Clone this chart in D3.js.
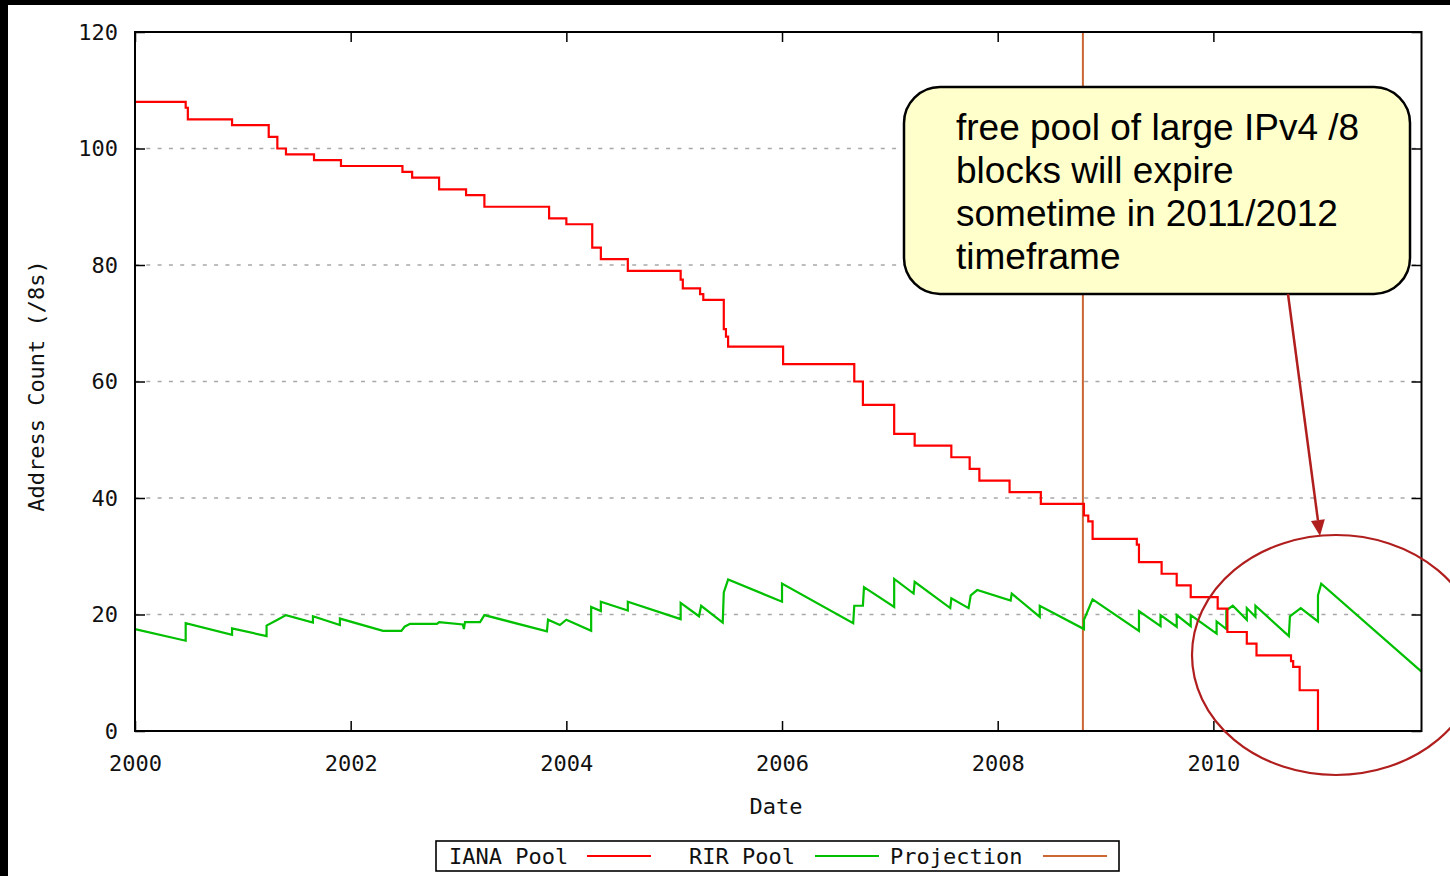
<!DOCTYPE html>
<html>
<head>
<meta charset="utf-8">
<script src="https://cdn.jsdelivr.net/npm/d3@7"></script>
<style>
  body { margin: 0; background: #fff; }
  svg { display: block; }
</style>
</head>
<body>
<svg width="1450" height="876"></svg>
<script>
// tick values
const yearTicks = [2000, 2002, 2004, 2006, 2008, 2010];
const countTicks = [0, 20, 40, 60, 80, 100, 120];
const gridTicks = [20, 40, 60, 80, 100];

// IANA pool (/8s) — step changes [decimal year, count]
const ianaPool = [
  [2000.00, 108], [2000.47, 107], [2000.49, 105], [2000.90, 104], [2001.24, 102],
  [2001.32, 100], [2001.40, 99], [2001.66, 98], [2001.91, 97], [2002.48, 96],
  [2002.57, 95], [2002.82, 93], [2003.07, 92], [2003.24, 90], [2003.84, 88],
  [2004.00, 87], [2004.24, 83], [2004.32, 81], [2004.57, 79], [2005.06, 77.5],
  [2005.08, 76], [2005.24, 75], [2005.27, 74], [2005.46, 69], [2005.48, 67.7],
  [2005.50, 66], [2006.01, 63], [2006.67, 60], [2006.75, 56], [2007.04, 51],
  [2007.23, 49], [2007.57, 47], [2007.74, 45], [2007.83, 43], [2008.11, 41],
  [2008.40, 39], [2008.80, 37], [2008.84, 36], [2008.88, 33], [2009.29, 32],
  [2009.31, 29], [2009.52, 27], [2009.66, 25], [2009.79, 23], [2010.04, 21],
  [2010.13, 17], [2010.31, 15], [2010.40, 13], [2010.72, 12], [2010.74, 11],
  [2010.80, 7], [2010.97, 0]
];

// RIR pool (/8s) — vertices [decimal year, count]
const rirPool = [
  [2000.00, 17.5], [2000.47, 15.5], [2000.47, 18.5], [2000.90, 16.5], [2000.90, 17.6],
  [2001.22, 16.3], [2001.22, 18.1], [2001.33, 19.2], [2001.40, 19.9], [2001.65, 18.6],
  [2001.65, 19.7], [2001.90, 18.2], [2001.90, 19.3], [2002.30, 17.2], [2002.47, 17.2],
  [2002.50, 17.9], [2002.55, 18.4], [2002.80, 18.4], [2002.82, 18.7], [2003.04, 18.3],
  [2003.05, 17.5], [2003.06, 18.7], [2003.20, 18.7], [2003.24, 19.9], [2003.82, 17.1],
  [2003.83, 19.1], [2003.94, 18.2], [2004.00, 19.1], [2004.23, 17.2], [2004.23, 21.3],
  [2004.32, 20.6], [2004.32, 22.2], [2004.57, 20.7], [2004.57, 22.2], [2005.06, 19.2],
  [2005.06, 22.0], [2005.23, 19.7], [2005.25, 21.5], [2005.45, 18.6], [2005.46, 23.8],
  [2005.50, 26.0], [2006.00, 22.2], [2006.00, 25.3], [2006.66, 18.5], [2006.67, 21.5],
  [2006.75, 21.5], [2006.76, 24.7], [2007.04, 21.3], [2007.04, 26.1], [2007.22, 23.6],
  [2007.23, 25.6], [2007.56, 21.1], [2007.57, 22.8], [2007.73, 21.1], [2007.75, 23.3],
  [2007.81, 24.2], [2008.12, 22.4], [2008.13, 23.6], [2008.39, 19.6], [2008.39, 21.5],
  [2008.80, 17.5], [2008.80, 19.1], [2008.88, 22.6], [2009.31, 17.2], [2009.31, 20.6],
  [2009.51, 18.0], [2009.51, 19.9], [2009.66, 17.9], [2009.66, 19.9], [2009.79, 18.0],
  [2009.79, 19.9], [2010.03, 16.7], [2010.03, 18.8], [2010.12, 17.5], [2010.12, 20.7],
  [2010.18, 21.5], [2010.31, 19.1], [2010.31, 21.1], [2010.39, 19.6], [2010.39, 21.5],
  [2010.70, 16.3], [2010.71, 19.7], [2010.81, 21.1], [2010.97, 18.8], [2010.97, 23.3],
  [2011.00, 25.3], [2011.93, 10.2]
];

const projectionYear = 2008.79;

const legendLabels = ["IANA Pool", "RIR Pool", "Projection"];
const noteLines = [
  "free pool of large IPv4 /8",
  "blocks will expire",
  "sometime in 2011/2012",
  "timeframe"
];

const colors = { iana: "#ff0000", rir: "#00c000", proj: "#cc6633", note: "#b01e1e" };
const mono = "'DejaVu Sans Mono', monospace";

const svg = d3.select("svg");
const margin = { left: 135, top: 32, right: 1421.5, bottom: 731 };

svg.append("rect").attr("width", 1450).attr("height", 876).attr("fill", "#fff");
// black slide edges
svg.append("rect").attr("x", 0).attr("y", 0).attr("width", 1450).attr("height", 5).attr("fill", "#000");
svg.append("rect").attr("x", 0).attr("y", 0).attr("width", 8).attr("height", 876).attr("fill", "#000");

const x = d3.scaleLinear().domain([2000, 2011.93]).range([margin.left, margin.right]);
const y = d3.scaleLinear().domain([0, 120]).range([margin.bottom, margin.top]);

// dotted grid
svg.append("g")
  .selectAll("line")
  .data(gridTicks)
  .enter().append("line")
  .attr("x1", margin.left).attr("x2", margin.right)
  .attr("y1", d => y(d)).attr("y2", d => y(d))
  .attr("stroke", "#a8a8a8")
  .attr("stroke-width", 1.6)
  .attr("stroke-dasharray", "4,7.3");

// axes (ticks point inward)
const xAxis = svg.append("g")
  .attr("transform", `translate(0,${margin.bottom})`)
  .call(d3.axisBottom(x).tickValues(yearTicks).tickFormat(d3.format("d")).tickSize(-10).tickPadding(24));
const yAxis = svg.append("g")
  .attr("transform", `translate(${margin.left},0)`)
  .call(d3.axisLeft(y).tickValues(countTicks).tickSize(-10).tickPadding(17));
const xTop = svg.append("g")
  .attr("transform", `translate(0,${margin.top})`)
  .call(d3.axisTop(x).tickValues(yearTicks).tickSize(-10).tickFormat(""));
const yRight = svg.append("g")
  .attr("transform", `translate(${margin.right},0)`)
  .call(d3.axisRight(y).tickValues(countTicks).tickSize(-10).tickFormat(""));

[xAxis, yAxis, xTop, yRight].forEach(g => {
  g.select(".domain").remove();
  g.selectAll(".tick line").attr("stroke", "#000").attr("stroke-width", 1.5);
  g.selectAll("text").attr("font-family", mono).attr("font-size", 22).attr("fill", "#111");
});

// projection marker
svg.append("line")
  .attr("x1", x(projectionYear)).attr("x2", x(projectionYear))
  .attr("y1", margin.top).attr("y2", margin.bottom)
  .attr("stroke", colors.proj)
  .attr("stroke-width", 2);

// series
const stepLine = d3.line().x(d => x(d[0])).y(d => y(d[1])).curve(d3.curveStepAfter);
const plainLine = d3.line().x(d => x(d[0])).y(d => y(d[1]));

svg.append("path")
  .datum(rirPool)
  .attr("d", plainLine)
  .attr("fill", "none")
  .attr("stroke", colors.rir)
  .attr("stroke-width", 2.2)
  .attr("stroke-linejoin", "miter");

svg.append("path")
  .datum(ianaPool)
  .attr("d", stepLine)
  .attr("fill", "none")
  .attr("stroke", colors.iana)
  .attr("stroke-width", 2.2);

// plot frame
svg.append("rect")
  .attr("x", margin.left).attr("y", margin.top)
  .attr("width", margin.right - margin.left)
  .attr("height", margin.bottom - margin.top)
  .attr("fill", "none")
  .attr("stroke", "#000")
  .attr("stroke-width", 2);

// axis titles
svg.append("text")
  .attr("x", 776).attr("y", 814)
  .attr("text-anchor", "middle")
  .attr("font-family", mono).attr("font-size", 22).attr("fill", "#111")
  .text("Date");

svg.append("text")
  .attr("transform", "translate(44,386) rotate(-90)")
  .attr("text-anchor", "middle")
  .attr("font-family", mono).attr("font-size", 22).attr("fill", "#111")
  .text("Address Count (/8s)");

// legend
const legend = svg.append("g");
legend.append("rect")
  .attr("x", 436).attr("y", 841).attr("width", 683).attr("height", 30)
  .attr("fill", "#fff").attr("stroke", "#000").attr("stroke-width", 1.6);
const legendPos = [{ tx: 449, sx: 587 }, { tx: 689, sx: 815 }, { tx: 890, sx: 1043 }];
const legendColors = [colors.iana, colors.rir, colors.proj];
legendLabels.forEach((label, i) => {
  legend.append("text")
    .attr("x", legendPos[i].tx).attr("y", 864)
    .attr("font-family", mono).attr("font-size", 22).attr("fill", "#111")
    .text(label);
  legend.append("line")
    .attr("x1", legendPos[i].sx).attr("x2", legendPos[i].sx + 64)
    .attr("y1", 856).attr("y2", 856)
    .attr("stroke", legendColors[i]).attr("stroke-width", 2);
});

// callout box
svg.append("rect")
  .attr("x", 904).attr("y", 87).attr("width", 506).attr("height", 207)
  .attr("rx", 36).attr("ry", 36)
  .attr("fill", "#ffffcc")
  .attr("stroke", "#000")
  .attr("stroke-width", 2.5);

svg.append("g")
  .selectAll("text")
  .data(noteLines)
  .enter().append("text")
  .attr("x", 956)
  .attr("y", (d, i) => 140 + i * 43)
  .attr("font-family", "'Liberation Sans', Arial, sans-serif")
  .attr("font-size", 37)
  .attr("fill", "#000")
  .text(d => d);

// arrow to the circled region
const a0 = [1288, 294], a1 = [1320, 536];
const ang = Math.atan2(a1[1] - a0[1], a1[0] - a0[0]);
const headLen = 16, headW = 7;
const base = [a1[0] - headLen * Math.cos(ang), a1[1] - headLen * Math.sin(ang)];
svg.append("line")
  .attr("x1", a0[0]).attr("y1", a0[1])
  .attr("x2", base[0]).attr("y2", base[1])
  .attr("stroke", colors.note).attr("stroke-width", 2.5);
svg.append("path")
  .attr("d", `M${a1[0]},${a1[1]}` +
    `L${base[0] + headW * Math.sin(ang)},${base[1] - headW * Math.cos(ang)}` +
    `L${base[0] - headW * Math.sin(ang)},${base[1] + headW * Math.cos(ang)}Z`)
  .attr("fill", colors.note);

svg.append("ellipse")
  .attr("cx", 1336).attr("cy", 655)
  .attr("rx", 144).attr("ry", 120)
  .attr("fill", "none")
  .attr("stroke", colors.note)
  .attr("stroke-width", 2.2);
</script>
</body>
</html>
